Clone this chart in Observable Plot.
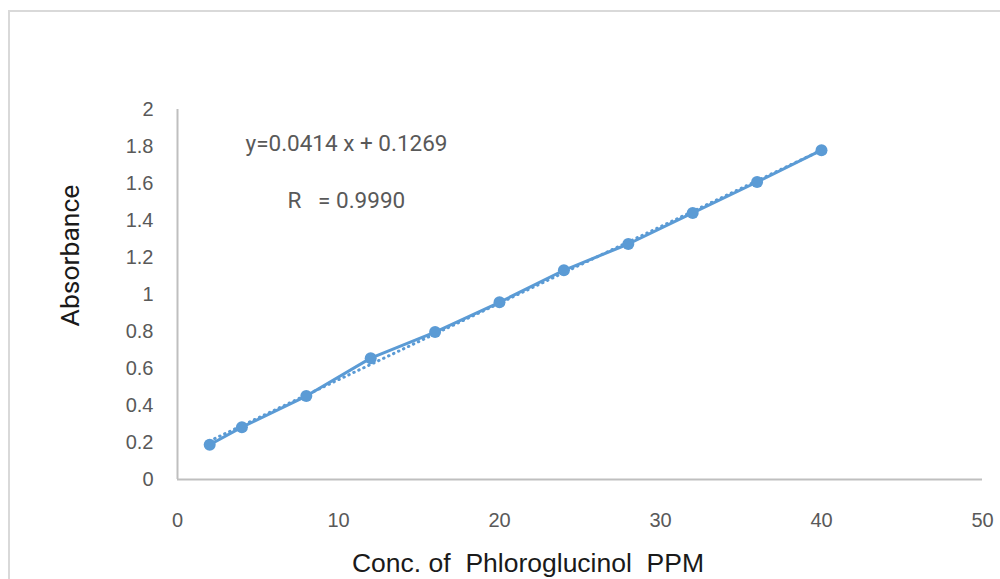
<!DOCTYPE html>
<html>
<head>
<meta charset="utf-8">
<script src="https://cdn.jsdelivr.net/npm/d3@7"></script>
<script src="https://cdn.jsdelivr.net/npm/@observablehq/plot@0.6"></script>
<style>
  html, body { margin: 0; padding: 0; background: #fff; }
  #wrap { position: relative; width: 1000px; height: 579px; overflow: hidden; }
  #frame { position: absolute; left: 8px; top: 10px; width: 1100px; height: 700px;
           border-top: 2px solid #d9d9d9; border-left: 2px solid #d9d9d9; }
  #chart { position: absolute; left: 0; top: 0; }
</style>
</head>
<body>
<div id="wrap"><div id="frame"></div><div id="chart"></div></div>
<script>
const conc = [2, 4, 8, 12, 16, 20, 24, 28, 32, 36, 40];
const absorbance = [0.188, 0.283, 0.451, 0.656, 0.797, 0.958, 1.131, 1.273, 1.441, 1.608, 1.780];
const xTicks = [0, 10, 20, 30, 40, 50];
const yTicks = [0, 0.2, 0.4, 0.6, 0.8, 1, 1.2, 1.4, 1.6, 1.8, 2];
const equationText = "y=0.0414 x + 0.1269";
const rText = "R   = 0.9990";
const xTitle = "Conc. of  Phloroglucinol  PPM";
const yTitle = "Absorbance";

const data = conc.map((c, i) => ({conc: c, abs: absorbance[i]}));
const blue = "#5b9bd5";
const axisGray = "#bfbfbf";
const tickFont = "'Liberation Sans Narrow', 'Arial Narrow', 'Liberation Sans', sans-serif";
const textFont = "Roboto, 'Liberation Sans', sans-serif";

const chart = Plot.plot({
  width: 1000,
  height: 579,
  marginLeft: 177,
  marginRight: 18,
  marginTop: 109,
  marginBottom: 100,
  style: {background: "transparent", fontFamily: tickFont},
  x: {domain: [0, 50]},
  y: {domain: [0, 2]},
  marks: [
    Plot.ruleY([0], {stroke: axisGray, strokeWidth: 2}),
    Plot.ruleX([0], {stroke: axisGray, strokeWidth: 2}),
    Plot.axisX(xTicks, {tickSize: 0, tickPadding: 33, fontSize: 20, fill: "#595959", label: null, fontFamily: tickFont, tickFormat: d => String(d)}),
    Plot.axisY(yTicks, {tickSize: 0, tickPadding: 24, fontSize: 20, fill: "#595959", label: null, fontFamily: tickFont, tickFormat: d => String(d)}),
    Plot.linearRegressionY(data, {x: "conc", y: "abs", ci: 0, stroke: blue, strokeWidth: 3, strokeDasharray: "0.5,5", strokeLinecap: "round"}),
    Plot.line(data, {x: "conc", y: "abs", stroke: blue, strokeWidth: 3}),
    Plot.dot(data, {x: "conc", y: "abs", r: 6, fill: blue, stroke: null}),
    Plot.text([equationText], {frameAnchor: "top-left", dx: 68, dy: 34, textAnchor: "start", lineAnchor: "middle", fontSize: 22.5, fill: "#595959", fontFamily: textFont}),
    Plot.text([rText], {frameAnchor: "top-left", dx: 110, dy: 91, textAnchor: "start", lineAnchor: "middle", fontSize: 22.5, fill: "#595959", fontFamily: textFont}),
    Plot.text([xTitle], {frameAnchor: "bottom", dx: -52, dy: 84, textAnchor: "middle", lineAnchor: "middle", fontSize: 26.5, fill: "#1a1a1a", fontFamily: tickFont}),
    Plot.text([yTitle], {frameAnchor: "left", dx: -107, dy: -39, rotate: -90, textAnchor: "middle", lineAnchor: "middle", fontSize: 26.5, fill: "#1a1a1a", fontFamily: textFont})
  ]
});
document.getElementById("chart").appendChild(chart);
</script>
</body>
</html>
